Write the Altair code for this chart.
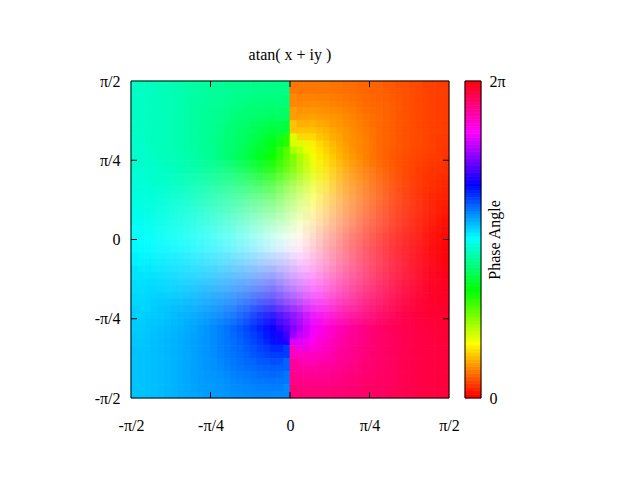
import colorsys
import altair as alt

TITLE = "atan( x + iy )"
CB_TITLE = "Phase Angle"
TICK_POS = [-6, 0, 6]
AXIS_POS = [-12, -6, 0, 6, 12]

HUE = [
[166,165,163,161,159,157,156,154,153,152,152,152,28,28,28,27,26,24,23,21,19,17,15,14],
[166,165,163,161,158,156,155,152,150,148,147,148,32,33,32,30,28,25,24,22,19,17,15,14],
[166,165,163,161,158,155,153,149,146,144,142,143,37,38,36,34,31,27,25,22,19,17,15,14],
[166,165,163,161,158,155,151,147,143,138,134,134,46,46,42,37,33,29,25,22,19,17,15,14],
[167,165,163,161,158,155,150,146,140,133,124,112,68,56,47,40,34,30,25,22,19,17,15,13],
[168,166,164,162,159,155,150,144,137,128,117,100,80,63,52,43,36,30,25,21,18,16,14,12],
[169,168,166,163,160,156,151,145,137,127,114,98,82,66,53,43,35,29,24,20,17,14,12,11],
[171,169,167,165,162,158,153,147,139,128,114,98,82,66,52,41,33,27,22,18,15,13,11,9],
[172,171,170,168,165,161,157,151,143,132,117,100,80,63,48,37,29,23,19,15,12,10,9,8],
[174,173,172,171,169,166,162,157,150,139,124,102,78,56,41,30,23,18,14,11,9,8,7,6],
[177,176,175,174,173,171,169,165,160,151,136,109,71,44,29,20,15,11,9,7,6,5,4,3],
[179,178,178,178,178,177,176,175,173,170,162,135,45,18,10,7,5,4,3,2,2,2,1,1],
[181,181,182,182,182,183,184,185,187,190,198,225,315,342,350,353,355,356,357,358,358,358,359,359],
[183,184,185,186,187,189,191,195,200,209,224,251,289,316,331,340,345,349,351,353,354,355,356,357],
[186,187,188,189,191,194,198,203,210,221,236,258,282,304,319,330,337,342,346,349,351,352,353,354],
[188,189,190,192,195,199,203,209,217,228,243,260,280,297,312,323,331,337,341,345,348,350,351,352],
[189,191,193,195,198,202,207,213,221,232,246,262,278,294,308,319,327,333,338,342,345,347,349,351],
[191,192,194,197,200,204,209,215,223,233,246,262,278,294,307,317,325,331,336,340,343,346,348,349],
[192,194,196,198,201,205,210,216,223,232,243,260,280,297,308,317,324,330,335,339,342,344,346,348],
[193,195,197,199,202,205,210,214,220,227,236,248,292,304,313,320,326,330,335,338,341,343,345,347],
[194,195,197,199,202,205,209,213,217,222,226,226,314,314,318,323,327,331,335,338,341,343,345,346],
[194,195,197,199,202,205,207,211,214,216,218,217,323,322,324,326,329,333,335,338,341,343,345,346],
[194,195,197,199,202,204,205,208,210,212,213,212,328,327,328,330,332,335,336,338,341,343,345,346],
[194,195,197,199,201,203,204,206,207,208,208,208,332,332,332,333,334,336,337,339,341,343,345,346],
]

SAT = [
[100]*24,
[100]*24,
[100]*24,
[100]*24,
[100]*24,
[100]*24,
[100,100,100,99,96,94,91,89,88,88,89,90,90,89,88,88,89,91,94,96,99,100,100,100],
[100,100,98,95,91,87,83,78,75,71,69,68,68,69,71,75,78,83,87,91,95,98,100,100],
[100,99,95,91,86,81,75,69,63,57,53,50,50,53,57,63,69,75,81,86,91,95,99,100],
[100,97,92,87,82,76,69,62,54,46,39,35,35,39,46,54,62,69,76,82,87,92,97,100],
[99,95,90,85,79,72,65,56,47,37,28,21,21,28,37,47,56,65,72,79,85,90,95,99],
[98,94,89,84,78,71,63,54,43,32,20,9,9,20,32,43,54,63,71,78,84,89,94,98],
[98,94,89,84,78,71,63,54,43,32,20,9,9,20,32,43,54,63,71,78,84,89,94,98],
[99,95,90,85,79,72,65,56,47,37,28,21,21,28,37,47,56,65,72,79,85,90,95,99],
[100,97,92,87,82,76,69,62,54,46,39,35,35,39,46,54,62,69,76,82,87,92,97,100],
[100,99,95,91,86,81,75,69,63,57,53,50,50,53,57,63,69,75,81,86,91,95,99,100],
[100,100,98,95,91,87,83,78,75,71,69,68,68,69,71,75,78,83,87,91,95,98,100,100],
[100,100,100,99,96,94,91,89,88,88,89,90,90,89,88,88,89,91,94,96,99,100,100,100],
[100]*24,
[100]*24,
[100]*24,
[100]*24,
[100]*24,
[100]*24,
]

CB_LEVELS = list(range(0, 360, 4))
FONT = "Liberation Serif"


def hexcolor(h, s):
    r, g, b = colorsys.hsv_to_rgb(h / 360.0, s / 100.0, 1.0)
    return "#%02x%02x%02x" % (round(r * 255), round(g * 255), round(b * 255))


cells = []
soft = []
for r, (hrow, srow) in enumerate(zip(HUE, SAT)):
    for c, (h, s) in enumerate(zip(hrow, srow)):
        col = hexcolor(h, s)
        cells.append({"x0": c - 12, "x1": c - 11, "y0": 11 - r, "y1": 12 - r, "c": col})
        # softening layer: same cells displaced half a cell, kept off the branch cut
        if not (c == 11 and (r < 5 or r > 18)):
            soft.append({"x0": c - 11.5, "x1": c - 10.5, "y0": 10.5 - r, "y1": 11.5 - r, "c": col})

W, H = 318, 317
xlab = "datum.value==-12?'-π/2':datum.value==-6?'-π/4':datum.value==0?'0':datum.value==6?'π/4':'π/2'"

heat = alt.Chart(alt.Data(values=cells)).mark_rect(strokeWidth=0.7).encode(
    x=alt.X("x0:Q", scale=alt.Scale(domain=[-12, 12], nice=False, zero=False),
            axis=alt.Axis(values=AXIS_POS, labelExpr=xlab, ticks=False, domain=False, grid=False,
                          title=None, labelPadding=27, labelFontSize=16, labelFont=FONT,
                          labelColor="#000000", labelAngle=0, labelBaseline="middle",
                          labelFlush=False, labelOverlap=False)),
    x2="x1:Q",
    y=alt.Y("y0:Q", scale=alt.Scale(domain=[-12, 12], nice=False, zero=False),
            axis=alt.Axis(values=AXIS_POS, labelExpr=xlab, ticks=False, domain=False, grid=False,
                          title=None, labelPadding=11, labelFontSize=16, labelFont=FONT,
                          labelColor="#000000", labelFlush=False, labelOverlap=False)),
    y2="y1:Q",
    fill=alt.Fill("c:N", scale=None),
    stroke=alt.Stroke("c:N", scale=None),
)
soften = alt.Chart(alt.Data(values=soft)).mark_rect(opacity=0.5, clip=True).encode(
    x=alt.X("x0:Q"), x2="x1:Q", y=alt.Y("y0:Q"), y2="y1:Q",
    fill=alt.Fill("c:N", scale=None),
)

tick_data = alt.Data(values=[{"t": t} for t in TICK_POS])
rule = alt.Chart(tick_data).mark_rule(color="#000000", strokeWidth=1)
ticks = [
    rule.encode(x=alt.X("t:Q"), y=alt.value(0), y2=alt.value(6)),
    rule.encode(x=alt.X("t:Q"), y=alt.value(H - 6), y2=alt.value(H)),
    rule.encode(y=alt.Y("t:Q"), x=alt.value(0), x2=alt.value(6)),
    rule.encode(y=alt.Y("t:Q"), x=alt.value(W - 6), x2=alt.value(W)),
]
border_data = alt.Data(values=[{"b": 1}])
border = alt.Chart(border_data).mark_rect(filled=False, stroke="#000000", strokeWidth=1).encode(
    x=alt.value(0), x2=alt.value(W), y=alt.value(0), y2=alt.value(H))

main = alt.layer(heat, soften, *ticks, border).properties(
    width=W, height=H,
    title=alt.TitleParams(TITLE, font=FONT, fontSize=16, fontWeight="normal", color="#000000",
                          anchor="middle", offset=10),
)

cb_cells = [{"a": v, "b": v + 4, "c": hexcolor(v, 100)} for v in CB_LEVELS]
cb = alt.Chart(alt.Data(values=cb_cells)).mark_rect(strokeWidth=0.7).encode(
    x=alt.value(0), x2=alt.value(16),
    y=alt.Y("a:Q", scale=alt.Scale(domain=[0, 360], nice=False, zero=False),
            axis=alt.Axis(orient="right", values=[0, 360], labelExpr="datum.value==0?'0':'2π'",
                          ticks=False, domain=False, grid=False, labelPadding=8, labelFontSize=16,
                          labelFont=FONT, labelColor="#000000", labelFlush=False, title=CB_TITLE,
                          titleFont=FONT, titleFontSize=16, titleFontWeight="normal",
                          titleColor="#000000", titleAngle=270, titleX=13, titleY=H / 2,
                          titleAlign="center", titleBaseline="middle")),
    y2="b:Q",
    fill=alt.Fill("c:N", scale=None),
    stroke=alt.Stroke("c:N", scale=None),
)
cb_border = alt.Chart(border_data).mark_rect(filled=False, stroke="#000000", strokeWidth=1).encode(
    x=alt.value(0), x2=alt.value(16), y=alt.value(0), y2=alt.value(H))
colorbar = alt.layer(cb, cb_border).properties(width=16, height=H)

chart = alt.hconcat(main, colorbar, spacing=4).properties(
    padding={"left": 86, "top": 39, "right": 5, "bottom": 5}, background="#ffffff"
).configure_view(stroke=None)

chart.save("out.html", embed_options={"renderer": "svg", "actions": False})
